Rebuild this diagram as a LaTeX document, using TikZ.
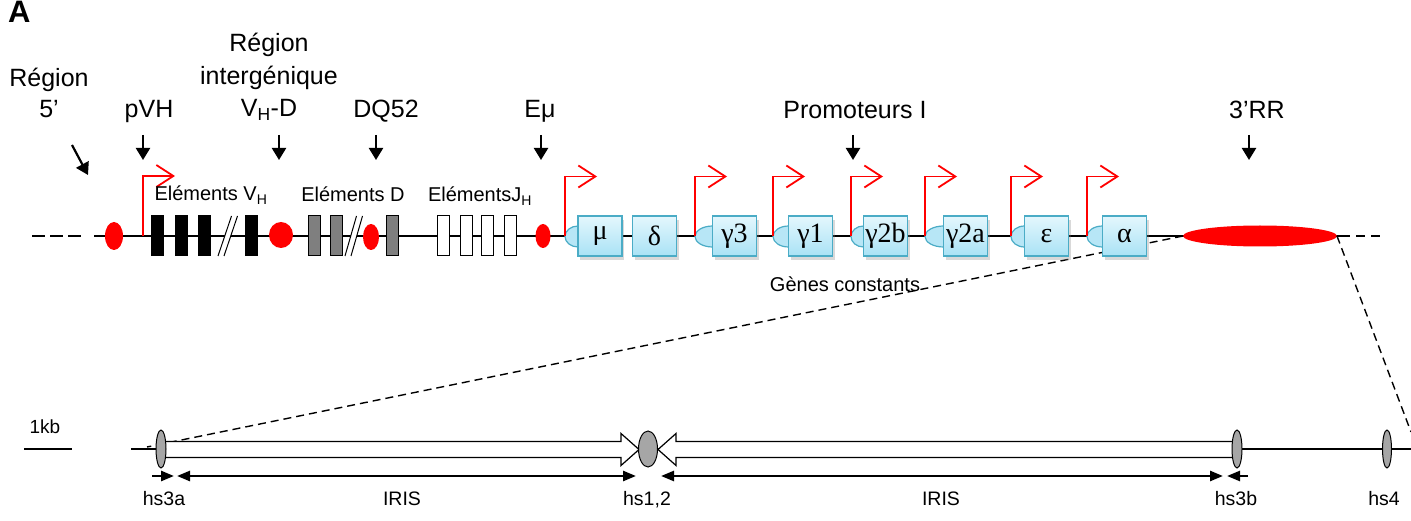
\documentclass[tikz,border=0pt]{standalone}
\usepackage{fontspec}
\setmainfont{Liberation Sans}
\newfontfamily\gr{Liberation Serif}
\usetikzlibrary{arrows.meta,positioning,shapes.geometric,shadows}
\definecolor{genedge}{HTML}{4BACC6}
\definecolor{genetop}{HTML}{E4F7FD}
\definecolor{genebot}{HTML}{A9E2F5}
\definecolor{genebump}{HTML}{B7E6F6}
\definecolor{dgray}{HTML}{7F7F7F}
\definecolor{hsgray}{HTML}{A6A6A6}

\begin{document}
\begin{tikzpicture}[
    x=1pt, y=-1pt,
    big/.style={font=\fontsize{25}{32}\selectfont, anchor=base, inner sep=0pt},
    lbl/.style={font=\fontsize{20}{24}\selectfont, anchor=base, inner sep=0pt},
    tiny/.style={font=\fontsize{19.5}{22}\selectfont, anchor=base, inner sep=0pt},
    bb/.style={line width=1.5pt},
    dn/.style={-{Triangle[length=12pt,width=14pt]}, line width=2.2pt},
    prom/.style={red, line width=1.8pt, -{Straight Barb[length=17pt,width=22pt]}},
    seg/.style={draw, line width=1pt, minimum width=12pt, minimum height=40pt, inner sep=0pt},
    enh/.style={ellipse, fill=red, inner sep=0pt, outer sep=0pt},
    gene/.style={draw=genedge, line width=1.4pt, top color=genetop, bottom color=genebot,
      minimum width=44pt, minimum height=40pt, inner sep=0pt, font=\gr\fontsize{28}{28}\selectfont,
      drop shadow={shadow xshift=2pt, shadow yshift=-4pt, opacity=0.3}},
    bump/.style={ellipse, draw=genedge, fill=genebump, line width=1.2pt, minimum height=21pt, inner sep=0pt, outer sep=0pt},
    hs/.style={ellipse, draw, fill=hsgray, line width=1pt, inner sep=0pt},
    zoomline/.style={dash pattern=on 8pt off 5pt, line width=1.4pt},
    iris/.style={draw, fill=white, line width=1.2pt},
    dim/.style={line width=2.5pt}
  ]
  \useasboundingbox (0,0) rectangle (1411,521);

  % chromosome line
  \draw[bb, dash pattern=on 13pt off 5pt] (32,236) -- (81,236);
  \draw[bb] (94,236) -- (1350,236);
  \draw[bb, dash pattern=on 9pt off 6pt] (1356,236) -- (1380,236);

  % 3'RR and zoom lines
  \node[enh, minimum width=154pt, minimum height=21pt] (rr) at (1260,236) {};
  \coordinate (z1) at (147,447);
  \coordinate (z2) at (1411,432);
  \draw[zoomline] (rr.west) -- (z1);
  \draw[zoomline] (rr.east) -- (z2);

  % V, D, J segments
  \node[enh, minimum width=18pt, minimum height=28pt] (e5) at (114,236) {};
  \foreach \i/\x in {1/157.5,2/181,3/204.5,4/251}
    \node[seg, fill=black] (v\i) at (\x,236) {};
  \fill[white] (218,256) -- (231.5,216) -- (237.5,216) -- (224,256) -- cycle;
  \draw[line width=1pt] (218,256) -- (231.5,216) (224,256) -- (237.5,216);
  \node[enh, minimum width=24pt, minimum height=26pt] (eig) at (281,235) {};
  \foreach \i/\x in {1/314.5,2/336,3/392.5}
    \node[seg, fill=dgray] (d\i) at (\x,236) {};
  \fill[white] (345,256) -- (356.5,216) -- (362.5,216) -- (351,256) -- cycle;
  \draw[line width=1pt] (345,256) -- (356.5,216) (351,256) -- (362.5,216);
  \node[enh, minimum width=16pt, minimum height=26pt] (edq) at (371,237) {};
  \foreach \i/\x in {1/443,2/466,3/487.5,4/510}
    \node[seg, fill=white] (j\i) at (\x,236) {};
  \node[enh, minimum width=15pt, minimum height=24pt] (emu) at (543,236) {};

  % pVH
  \coordinate (pvhp) at (143,236);
  \draw[prom] (pvhp) |- ++(32,-60);

  % constant genes
  \foreach \nm/\cx/\px/\g in {mu/600/565/μ, g3/734.5/695/γ3, g1/810.5/773/γ1, g2b/885.5/851/γ2b,
      g2a/965.5/925/γ2a, eps/1046.5/1011/ε, alp/1124.5/1087/α}{
    \node[bump, minimum width={2*(\cx-22-\px)}] (b\nm) at (\cx-22,236.5) {};
    \node[gene] (\nm) at (\cx,236) {\g};
    \draw[prom] (b\nm.west) |- ++(32,-60);
  }
  \node[gene] (del) at (654.5,236) {δ};

  % labels and pointers
  \node[font=\bfseries\fontsize{31}{31}\selectfont, anchor=base west, inner sep=0pt] (pa) at (8,23) {A};
  \node[big] (r5a) at (49,87) {Région};
  \node[big] (r5b) at ([yshift=-31pt]r5a.base) {5’};
  \node[big] (pvh) at (149,118) {pVH};
  \node[big] (ig1) at (269,52) {Région};
  \node[big] (ig2) at ([yshift=-32.5pt]ig1.base) {intergénique};
  \node[big] (ig3) at ([yshift=-32.5pt]ig2.base) {V\textsubscript{H}-D};
  \node[big] (dq) at (386,118) {DQ52};
  \node[big] (emul) at (540,118) {Eμ};
  \node[big] (pI) at (855,119) {Promoteurs I};
  \node[big] (rrl) at (1257,119) {3’RR};

  \draw[dn] ([xshift=23pt,yshift=-27pt]r5b.base) -- ++(16,30);
  \draw[dn] ([xshift=-6pt,yshift=-17pt]pvh.base) -- ++(0,25);
  \draw[dn] ([xshift=10pt,yshift=-18pt]ig3.base) -- ++(0,25);
  \draw[dn] ([xshift=-10pt,yshift=-17pt]dq.base) -- ++(0,25);
  \draw[dn] ([xshift=1pt,yshift=-17pt]emul.base) -- ++(0,25);
  \draw[dn] ([xshift=-2pt,yshift=-16pt]pI.base) -- ++(0,25);
  \draw[dn] ([xshift=-8pt,yshift=-16pt]rrl.base) -- ++(0,25);

  \node[lbl] (lv) at (211,201) {Eléments V\textsubscript{H}};
  \node[lbl] (ld) at (353,202) {Eléments D};
  \node[lbl] (lj) at (480,202) {ElémentsJ\textsubscript{H}};
  \node[lbl] (lc) at (845,292) {Gènes constants};

  % 3'RR detail
  \draw[dim] (24,449) -- (72,449);
  \node[font=\fontsize{19}{22}\selectfont, anchor=base, inner sep=0pt] (kb) at (45,433) {1kb};
  \draw[dim] (131,449) -- (1411,449);
  \draw[iris] (161,441.5) -- (621,441.5) -- (621,433.5) -- (639,449.5) -- (621,465.5)
    -- (621,457.5) -- (161,457.5) -- cycle;
  \draw[iris] (1237,441.5) -- (676,441.5) -- (676,433.5) -- (658,449.5) -- (676,465.5)
    -- (676,457.5) -- (1237,457.5) -- cycle;
  \node[hs, minimum width=10pt, minimum height=38pt] (hs3a) at (161,449) {};
  \node[hs, minimum width=19pt, minimum height=36pt] (hs12) at (648,449) {};
  \node[hs, minimum width=10pt, minimum height=38pt] (hs3b) at (1237,449) {};
  \node[hs, minimum width=9pt, minimum height=38pt] (hs4) at (1387,449) {};

  \coordinate (a1) at (152,476);  \coordinate (a2) at (174,476);
  \coordinate (i1l) at (177,476); \coordinate (i1r) at (636,476);
  \coordinate (i2l) at (661,476); \coordinate (i2r) at (1223,476);
  \coordinate (b1) at (1248,476); \coordinate (b2) at (1227,476);
  \draw[dim, -{Triangle[length=13pt,width=10pt]}] (a1) -- (a2);
  \draw[dim, {Triangle[length=13pt,width=10pt]}-{Triangle[length=13pt,width=10pt]}] (i1l) -- (i1r);
  \draw[dim, {Triangle[length=13pt,width=10pt]}-{Triangle[length=13pt,width=10pt]}] (i2l) -- (i2r);
  \draw[dim, -{Triangle[length=13pt,width=10pt]}] (b1) -- (b2);

  \node[tiny] (t1) at (164,505) {hs3a};
  \node[tiny] (t2) at (402,505) {IRIS};
  \node[tiny] (t3) at (647,505) {hs1,2};
  \node[tiny] (t4) at (941,505) {IRIS};
  \node[tiny] (t5) at (1236,505) {hs3b};
  \node[tiny] (t6) at (1384,505) {hs4};
\end{tikzpicture}
\end{document}
